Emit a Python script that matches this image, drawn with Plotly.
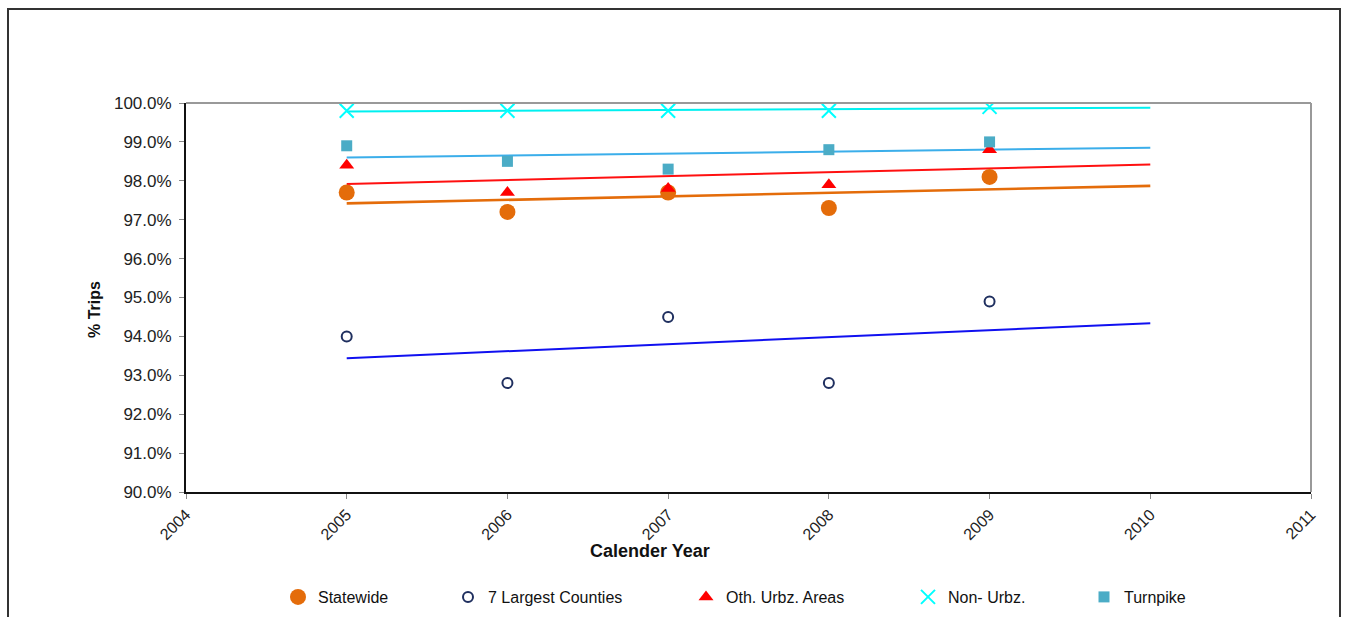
import numpy as np
import plotly.graph_objects as go

years = [2005, 2006, 2007, 2008, 2009]
statewide = [97.7, 97.2, 97.7, 97.3, 98.1]
largest_counties = [94.0, 92.8, 94.5, 92.8, 94.9]
oth_urbz = [98.4, 97.7, 97.8, 97.9, 98.8]
non_urbz = [99.8, 99.8, 99.8, 99.8, 99.9]
turnpike = [98.9, 98.5, 98.3, 98.8, 99.0]

trend_years = [2005, 2010]

FONT = "Liberation Sans, Arial, sans-serif"

# plot-area geometry in pixels
W, H = 1349, 617
PL, PR, PT, PB = 186, 1311, 103, 492
PW, PH = PR - PL, PB - PT


def px_x(x):
    return (x - PL) / PW


def px_y(y):
    return (PB - y) / PH


series = [
    dict(name="Statewide", y=statewide, marker=dict(symbol="circle", size=16, color="#E46C0A"),
         trend="#E46C0A", trend_w=2.6, legend="legend", lx=278),
    dict(name="7 Largest Counties", y=largest_counties,
         marker=dict(symbol="circle-open", size=10, color="#1F2F5F", line=dict(width=2, color="#1F2F5F")),
         trend="#1010F0", trend_w=2, legend="legend2", lx=448),
    dict(name="Oth. Urbz. Areas", y=oth_urbz, marker=dict(symbol="triangle-up", size=13, color="#FF0000"),
         trend="#FF1010", trend_w=2, legend="legend3", lx=686),
    dict(name="Non- Urbz.", y=non_urbz,
         marker=dict(symbol="x-thin-open", size=14, color="#00FFFF", line=dict(width=2, color="#00FFFF")),
         trend="#00F0F0", trend_w=2, legend="legend4", lx=908),
    dict(name="Turnpike", y=turnpike, marker=dict(symbol="square", size=11, color="#4BACC6"),
         trend="#3BAEEA", trend_w=2, legend="legend5", lx=1084),
]

fig = go.Figure()

# Linear trend lines (least squares), extended to 2010
for s in series:
    slope, intercept = np.polyfit(years, s["y"], 1)
    ty = [slope * x + intercept for x in trend_years]
    fig.add_trace(go.Scatter(x=trend_years, y=ty, mode="lines",
                             line=dict(color=s["trend"], width=s["trend_w"]),
                             showlegend=False, hoverinfo="skip"))

for s in series:
    fig.add_trace(go.Scatter(x=years, y=s["y"], mode="markers", name=s["name"],
                             marker=s["marker"], legend=s["legend"]))

legend_common = dict(orientation="h", yanchor="middle", xanchor="left", y=px_y(597),
                     font=dict(family=FONT, size=16, color="#111111"),
                     bgcolor="rgba(0,0,0,0)", itemwidth=30, tracegroupgap=0)
layout_legends = {}
for s in series:
    layout_legends[s["legend"]] = dict(legend_common, x=px_x(s["lx"]))

fig.update_layout(
    width=W, height=H,
    margin=dict(l=PL, r=W - PR, t=PT, b=H - PB, autoexpand=False),
    paper_bgcolor="white", plot_bgcolor="white",
    font=dict(family=FONT, size=14, color="#222222"),
    showlegend=True,
    **layout_legends,
    xaxis=dict(range=[2004, 2011], tickmode="linear", tick0=2004, dtick=1,
               tickangle=-45, showgrid=False, zeroline=False, automargin=False,
               showline=True, linecolor="#111111", linewidth=2,
               ticks="outside", ticklen=5, tickcolor="#888888", tickwidth=1,
               tickfont=dict(family=FONT, size=16, color="#222222")),
    yaxis=dict(range=[90, 100], tickmode="linear", tick0=90, dtick=1,
               ticksuffix="%", tickformat=".1f", showgrid=False, zeroline=False,
               automargin=False,
               showline=True, linecolor="#111111", linewidth=2,
               ticks="outside", ticklen=5, tickcolor="#888888", tickwidth=1,
               ticklabelstandoff=4,
               tickfont=dict(family=FONT, size=17, color="#222222")),
    shapes=[
        # top and right edges of the plot frame
        dict(type="line", xref="paper", yref="paper", x0=0, x1=1, y0=1, y1=1,
             line=dict(color="#999999", width=2)),
        dict(type="line", xref="paper", yref="paper", x0=1, x1=1, y0=0, y1=1,
             line=dict(color="#999999", width=2)),
        # outer chart border
        dict(type="rect", xref="paper", yref="paper",
             x0=px_x(8), x1=px_x(1340), y0=px_y(640), y1=px_y(9),
             line=dict(color="#333333", width=2), layer="below"),
    ],
    annotations=[
        dict(text="<b>Calender Year</b>", xref="paper", yref="paper",
             x=px_x(650), y=px_y(551), showarrow=False,
             xanchor="center", yanchor="middle",
             font=dict(family=FONT, size=18, color="#111111")),
        dict(text="<b>% Trips</b>", xref="paper", yref="paper",
             x=px_x(94), y=px_y(310), showarrow=False,
             textangle=-90, xanchor="center", yanchor="middle",
             font=dict(family=FONT, size=16, color="#111111")),
    ],
)

fig.write_html("out.html")
